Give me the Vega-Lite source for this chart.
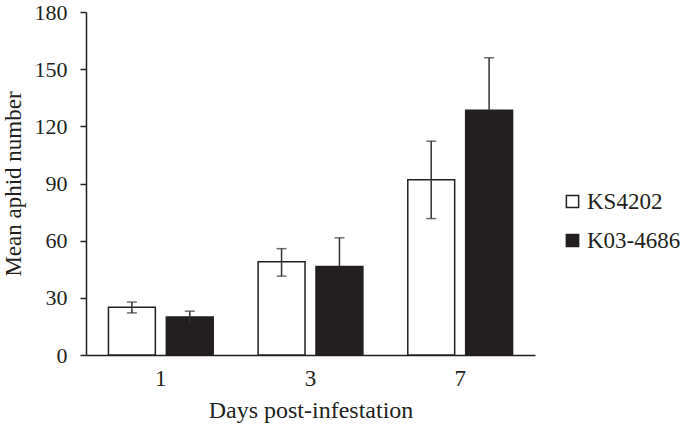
{
  "$schema": "https://vega.github.io/schema/vega-lite/v6.json",
  "autosize": "none",
  "width": 449,
  "height": 343,
  "padding": {"left": 86, "top": 12, "right": 150, "bottom": 77},
  "background": "white",
  "config": {
    "view": {"stroke": null},
    "font": "Liberation Serif",
    "axis": {"labelFont": "Liberation Serif", "titleFont": "Liberation Serif", "labelColor": "#231f20", "titleColor": "#231f20", "domainColor": "#231f20", "tickColor": "#231f20", "labelFontSize": 22, "titleFontSize": 23, "titleFontWeight": "normal", "grid": false, "domainWidth": 1.5, "tickWidth": 1.5},
    "legend": {"labelFont": "Liberation Serif", "labelFontSize": 23, "labelColor": "#231f20"}
  },
  "data": {
    "values": [
      {"day": "1", "cultivar": "KS4202", "mean": 25, "lo": 22.1, "hi": 27.8},
      {"day": "1", "cultivar": "K03-4686", "mean": 20, "lo": 17, "hi": 23},
      {"day": "3", "cultivar": "KS4202", "mean": 49, "lo": 41.4, "hi": 55.8},
      {"day": "3", "cultivar": "K03-4686", "mean": 46.4, "lo": 46.4, "hi": 61.5},
      {"day": "7", "cultivar": "KS4202", "mean": 92, "lo": 71.6, "hi": 112.2},
      {"day": "7", "cultivar": "K03-4686", "mean": 128.5, "lo": 128.5, "hi": 156}
    ]
  },
  "encoding": {
    "x": {"field": "day", "type": "nominal", "sort": ["1", "3", "7"], "scale": {"paddingInner": 0.3, "paddingOuter": 0.15},
      "axis": {"title": "Days post-infestation", "titleFontSize": 24, "labelFontSize": 23, "labelAngle": 0, "ticks": false, "labelPadding": 12, "titlePadding": 8}},
    "xOffset": {"field": "cultivar", "type": "nominal", "sort": ["KS4202", "K03-4686"], "scale": {"paddingInner": 0.19, "paddingOuter": 0}}
  },
  "layer": [
    {
      "mark": {"type": "bar", "stroke": "#231f20", "strokeWidth": 1.5},
      "encoding": {
        "y": {"field": "mean", "type": "quantitative", "scale": {"domain": [0, 180]},
          "axis": {"title": "Mean aphid number", "values": [0, 30, 60, 90, 120, 150, 180], "tickSize": 6, "labelPadding": 13, "titlePadding": 9}},
        "fill": {"field": "cultivar", "type": "nominal", "sort": ["KS4202", "K03-4686"],
          "scale": {"domain": ["KS4202", "K03-4686"], "range": ["white", "#231f20"]},
          "legend": {"title": null, "orient": "none", "legendX": 475, "legendY": 178, "symbolType": "square", "symbolSize": 150, "symbolStrokeColor": "#231f20", "symbolStrokeWidth": 1.5, "rowPadding": 15, "labelOffset": 3}}
      }
    },
    {
      "mark": {"type": "rule", "color": "#333333", "strokeWidth": 1.5},
      "encoding": {"y": {"field": "lo", "type": "quantitative"}, "y2": {"field": "hi"}}
    },
    {
      "mark": {"type": "tick", "color": "#333333", "thickness": 1.5, "size": 10, "orient": "horizontal"},
      "encoding": {"y": {"field": "hi", "type": "quantitative"}}
    },
    {
      "mark": {"type": "tick", "color": "#333333", "thickness": 1.5, "size": 10, "orient": "horizontal"},
      "transform": [{"filter": "datum.cultivar == 'KS4202'"}],
      "encoding": {"y": {"field": "lo", "type": "quantitative"}}
    }
  ]
}
